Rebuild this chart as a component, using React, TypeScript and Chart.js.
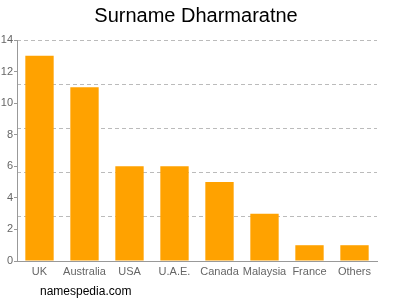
import React, { useEffect, useRef } from "react";
import { Chart, registerables } from "chart.js";

Chart.register(...registerables);

const categories = ["UK", "Australia", "USA", "U.A.E.", "Canada", "Malaysia", "France", "Others"];
const counts = [13, 11, 6, 6, 5, 3, 1, 1];
const titleText = "Surname Dharmaratne";
const watermark = "namespedia.com";

export default function App() {
  const ref = useRef<HTMLCanvasElement | null>(null);
  useEffect(() => {
    document.body.style.margin = "0";
    const chart = new Chart(ref.current!, {
      type: "bar",
      data: {
        labels: categories,
        datasets: [
          {
            data: counts,
            backgroundColor: "#ffa200",
            borderWidth: 0,
            categoryPercentage: 1,
            barPercentage: 0.63,
          },
        ],
      },
      options: {
        responsive: false,
        animation: false,
        maintainAspectRatio: false,
        layout: { padding: { left: 0, right: 8, top: 0, bottom: 0 } },
        plugins: {
          legend: { display: false },
          tooltip: { enabled: false },
          title: {
            display: true,
            text: titleText,
            color: "#000",
            font: { family: "Liberation Sans, Arial, sans-serif", size: 20, weight: "normal" },
            padding: { top: 4, bottom: 12 },
          },
        },
        scales: {
          x: {
            grid: { display: false, drawTicks: false },
            border: { display: true, color: "#999" },
            ticks: {
              color: "#666",
              padding: 4,
              maxRotation: 0,
              autoSkip: false,
              font: { family: "Liberation Sans, Arial, sans-serif", size: 11 },
            },
            afterFit: (s: any) => {
              s.height = 39;
            },
          },
          y: {
            position: "left",
            min: 0,
            max: 14,
            grid: { display: true, drawOnChartArea: false, drawTicks: true, tickLength: 3, color: "#999" },
            border: { display: true, color: "#999" },
            ticks: {
              stepSize: 2,
              color: "#666",
              padding: 1,
              font: { family: "Liberation Sans, Arial, sans-serif", size: 11 },
            },
            afterFit: (s: any) => {
              s.width = 17;
            },
          },
          y2: {
            position: "right",
            min: 0,
            max: 14,
            grid: { display: true, drawTicks: false, color: "#bbb", lineWidth: 1 },
            border: { display: false, dash: [4, 3] },
            ticks: { display: false, stepSize: 2.8 },
            afterFit: (s: any) => {
              s.width = 15;
            },
          },
        },
      },
    });
    return () => chart.destroy();
  }, []);
  return (
    <div style={{ position: "absolute", left: 0, top: 0, width: 400, height: 300 }}>
      <canvas ref={ref} width={400} height={300} />
      <div
        style={{
          position: "absolute",
          left: 40,
          top: 283,
          fontFamily: "Liberation Sans, Arial, sans-serif",
          fontSize: 12,
          lineHeight: "16px",
          color: "#000",
        }}
      >
        {watermark}
      </div>
    </div>
  );
}
